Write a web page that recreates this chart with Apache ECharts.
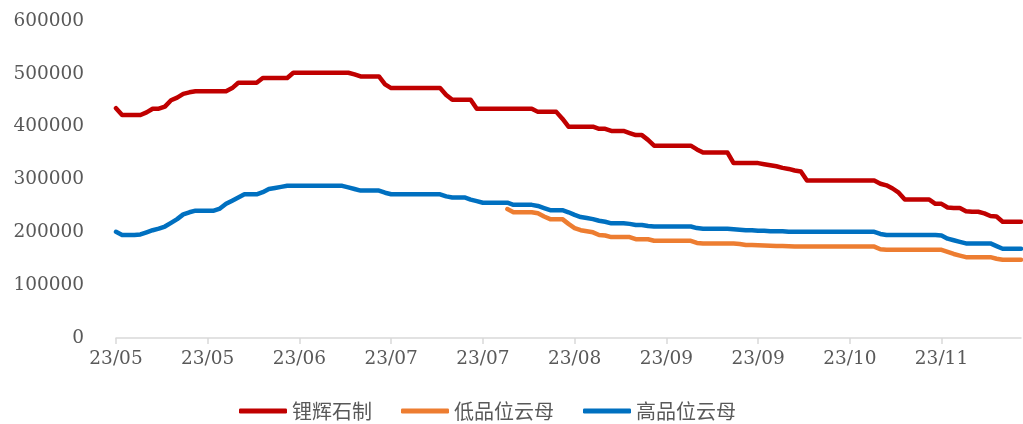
<!DOCTYPE html>
<html>
<head>
<meta charset="utf-8">
<script src="https://cdn.jsdelivr.net/npm/echarts@6/dist/echarts.min.js"></script>
<style>
    html, body {margin: 0; padding: 0; background: #fff;}
    #main_box {width: 1023px; height: 424px;}
</style>
</head>
<body>
<div id="main_box"></div>
<script>
// 每15个交易日一个刻度
let tick_labels = ['23/05','23/05','23/06','23/07','23/07','23/08','23/09','23/09','23/10','23/11'];
let tick_step = 15;

// 锂辉石制
let spodumene_data = [
    435000, 422000, 422000, 422000, 422000, 427000, 434000, 434000, 438000, 450000,
    455000, 462000, 465000, 467000, 467000, 467000, 467000, 467000, 467000, 473000,
    483000, 483000, 483000, 483000, 492000, 492000, 492000, 492000, 492000, 502000,
    502000, 502000, 502000, 502000, 502000, 502000, 502000, 502000, 502000, 499000,
    495000, 495000, 495000, 495000, 480000, 473000, 473000, 473000, 473000, 473000,
    473000, 473000, 473000, 473000, 460000, 451000, 451000, 451000, 451000, 434000,
    434000, 434000, 434000, 434000, 434000, 434000, 434000, 434000, 434000, 428000,
    428000, 428000, 428000, 415000, 400000, 400000, 400000, 400000, 400000, 396000,
    396000, 392000, 392000, 392000, 388000, 384000, 384000, 375000, 364000, 364000,
    364000, 364000, 364000, 364000, 364000, 357000, 351000, 351000, 351000, 351000,
    351000, 331000, 331000, 331000, 331000, 331000, 329000, 327000, 325000, 322000,
    320000, 317000, 315000, 298000, 298000, 298000, 298000, 298000, 298000, 298000,
    298000, 298000, 298000, 298000, 298000, 292000, 289000, 283000, 275000, 262000,
    262000, 262000, 262000, 262000, 254000, 254000, 247000, 246000, 246000, 240000,
    239000, 239000, 236000, 231000, 230000, 220000, 220000, 220000, 220000
];

// 低品位云母（7月中旬开始有数据）
let low_mica_data = [
    null, null, null, null, null, null, null, null, null, null, null, null, null, null, null, null,
    null, null, null, null, null, null, null, null, null, null, null, null, null, null, null, null,
    null, null, null, null, null, null, null, null, null, null, null, null, null, null, null, null,
    null, null, null, null, null, null, null, null, null, null, null, null, null, null, null, null,
    244000, 238000, 238000, 238000, 238000, 236000,
    230000, 225000, 225000, 225000, 216000, 208000, 204000, 202000, 200000, 195000,
    194000, 191000, 191000, 191000, 191000, 187000, 187000, 187000, 184000, 184000,
    184000, 184000, 184000, 184000, 184000, 180000, 179000, 179000, 179000, 179000,
    179000, 179000, 178000, 176000, 176000, 175500, 175000, 174500, 174000, 174000,
    173500, 173000, 173000, 173000, 173000, 173000, 173000, 173000, 173000, 173000,
    173000, 173000, 173000, 173000, 173000, 168000, 167000, 167000, 167000, 167000,
    167000, 167000, 167000, 167000, 167000, 167000, 163000, 159000, 156000, 153000,
    153000, 153000, 153000, 153000, 150000, 148000, 148000, 148000, 148000
];

// 高品位云母
let high_mica_data = [
    201000, 195000, 195000, 195000, 196000, 200000, 204000, 207000, 211000, 218000,
    225000, 234000, 238000, 241000, 241000, 241000, 241000, 245000, 254000, 260000,
    266000, 272000, 272000, 272000, 276000, 282000, 284000, 286000, 288000, 288000,
    288000, 288000, 288000, 288000, 288000, 288000, 288000, 288000, 285000, 282000,
    279000, 279000, 279000, 279000, 275000, 272000, 272000, 272000, 272000, 272000,
    272000, 272000, 272000, 272000, 268000, 266000, 266000, 266000, 262000, 259000,
    256000, 256000, 256000, 256000, 256000, 252000, 252000, 252000, 252000, 250000,
    246000, 242000, 242000, 242000, 238000, 233000, 229000, 227000, 225000, 222000,
    220000, 217000, 217000, 217000, 216000, 214000, 214000, 212000, 211000, 211000,
    211000, 211000, 211000, 211000, 211000, 208000, 207000, 207000, 207000, 207000,
    207000, 206000, 205000, 204000, 204000, 203000, 203000, 202000, 202000, 202000,
    201000, 201000, 201000, 201000, 201000, 201000, 201000, 201000, 201000, 201000,
    201000, 201000, 201000, 201000, 201000, 197000, 195000, 195000, 195000, 195000,
    195000, 195000, 195000, 195000, 195000, 194000, 188000, 185000, 182000, 179000,
    179000, 179000, 179000, 179000, 174000, 169000, 169000, 169000, 169000
];

let series_names = ['锂辉石制', '低品位云母', '高品位云母'];
let y_ticks = {min: 0, max: 600000, interval: 100000};

function data_chart(){
    let x_index = spodumene_data.map(function (v, i) { return i; });
    let label_color = '#595959';
    let num_font = '"DejaVu Serif", "Liberation Serif", serif';

    let price_box = echarts.init(document.getElementById('main_box'));
    let price_option = {
        animation: false,
        color: ['#C00000', '#ED7D31', '#0070C0'],
        grid: {
            left: 116, right: 2,
            top: 21, bottom: 86,
            containLabel: false
        },
        legend: {
            data: series_names,
            left: 239, top: 401,
            padding: 0,
            icon: 'roundRect',
            itemWidth: 48, itemHeight: 5, itemGap: 29,
            textStyle: {color: label_color, fontSize: 20, fontFamily: '"Noto Sans CJK SC", sans-serif'}
        },
        xAxis: [
            {
                type: 'category',
                boundaryGap: false,
                data: x_index,
                axisLine: {lineStyle: {color: '#d9d9d9', width: 1.5}},
                axisTick: {
                    interval: tick_step - 1,
                    length: 6,
                    lineStyle: {color: '#d9d9d9', width: 1.5}
                },
                axisLabel: {
                    interval: tick_step - 1,
                    margin: 12,
                    color: label_color,
                    fontSize: 18.5,
                    fontFamily: num_font,
                    formatter: function (v, i) { return tick_labels[i / tick_step] || ''; }
                },
                splitLine: {show: false}
            },
        ],
        yAxis: [
            {
                type: 'value',
                min: y_ticks.min, max: y_ticks.max, interval: y_ticks.interval,
                axisLine: {show: false},
                axisTick: {show: false},
                splitLine: {show: false},
                axisLabel: {
                    margin: 32,
                    color: label_color,
                    fontSize: 18.5,
                    fontFamily: num_font,
                    formatter: function (v) { return String(v); }
                }
            },
        ],
        series: [
            {
                name: series_names[0],
                type: 'line',
                symbol: 'none',
                data: spodumene_data,
                lineStyle: {width: 4.5, cap: 'round', join: 'round'}
            },
            {
                name: series_names[1],
                type: 'line',
                symbol: 'none',
                data: low_mica_data,
                lineStyle: {width: 4.5, cap: 'round', join: 'round'}
            },
            {
                name: series_names[2],
                type: 'line',
                symbol: 'none',
                data: high_mica_data,
                lineStyle: {width: 4.5, cap: 'round', join: 'round'}
            },
        ]
    };
    price_box.setOption(price_option);
    window.onresize = function () { price_box.resize(); };
}

data_chart();
</script>
</body>
</html>
